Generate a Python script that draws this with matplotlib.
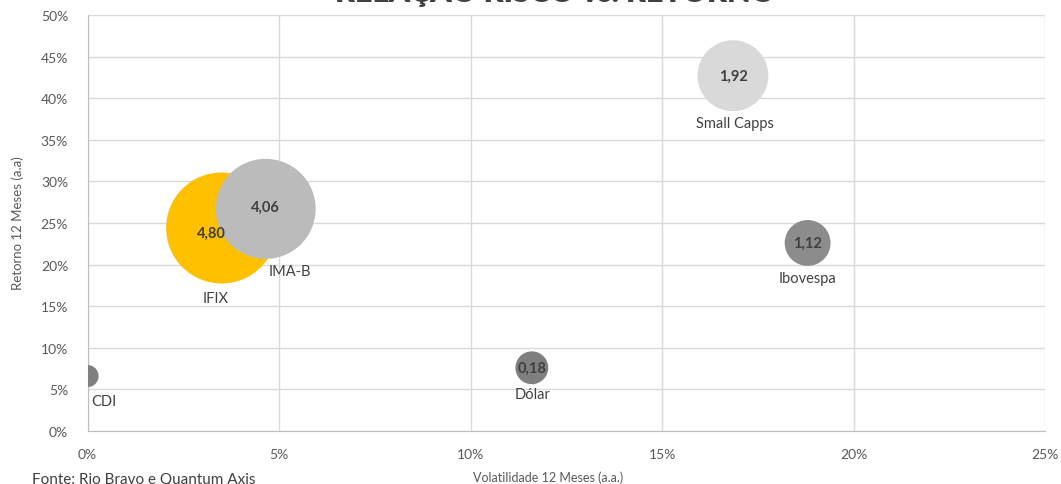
import matplotlib.pyplot as plt
from matplotlib.ticker import PercentFormatter

# dados
ativos = ['CDI', 'IFIX', 'IMA-B', 'Small Capps', 'Ibovespa', 'Dólar']
volatilidade = [0.0, 3.5, 4.65, 16.85, 18.8, 11.6]      # % a.a.
retorno = [6.6, 24.4, 26.7, 42.7, 22.6, 7.6]            # % a.a.
indice = [None, '4,80', '4,06', '1,92', '1,12', '0,18']
tamanho = [0.19, 4.80, 3.90, 1.96, 0.82, 0.42]          # tamanho relativo da bolha

cores = ['#7f7f7f', '#ffc000', '#bbbbbb', '#d9d9d9', '#8c8c8c', '#7f7f7f']
# deslocamentos dos rótulos (pixels): nome e valor
desl_nome = {'CDI': (16, -25), 'IFIX': (-6, -70), 'IMA-B': (24, -62),
             'Small Capps': (2, -47), 'Ibovespa': (0, -35), 'Dólar': (1, -26)}
desl_valor = {'IFIX': (-10, -5), 'IMA-B': (0, 2)}

plt.rcParams['font.family'] = ['Lato', 'DejaVu Sans']
cinza = '#595959'

fig = plt.figure(figsize=(10.61, 4.85), dpi=100)
ax = fig.add_axes([0.0825, 0.1093, 0.9025, 0.8577])

for i, nome in enumerate(ativos):
    ax.scatter(volatilidade[i], retorno[i], s=tamanho[i] * 1330, color=cores[i],
               edgecolors='none', zorder=3 + i)
    dx, dy = desl_nome[nome]
    ax.annotate(nome, (volatilidade[i], retorno[i]), xytext=(dx, dy),
                textcoords='offset pixels', ha='center', va='center',
                fontsize=10.5, color='#404040', zorder=20)
    if indice[i]:
        vx, vy = desl_valor.get(nome, (0, 0))
        ax.annotate(indice[i], (volatilidade[i], retorno[i]), xytext=(vx, vy),
                    textcoords='offset pixels', ha='center', va='center',
                    fontsize=10.5, fontweight='bold', color='#404040', zorder=20)

ax.set_xlim(0, 25)
ax.set_ylim(0, 50)
ax.set_xticks(range(0, 26, 5))
ax.set_yticks(range(0, 51, 5))
ax.xaxis.set_major_formatter(PercentFormatter(decimals=0))
ax.yaxis.set_major_formatter(PercentFormatter(decimals=0))
ax.tick_params(length=0, labelsize=10, colors=cinza)
ax.tick_params(axis='x', pad=12)
ax.tick_params(axis='y', pad=14)
ax.grid(True, color='#d9d9d9', linewidth=1)
ax.set_axisbelow(True)
for lado in ['top', 'right']:
    ax.spines[lado].set_visible(False)
for lado in ['left', 'bottom']:
    ax.spines[lado].set_color('#bfbfbf')

fig.text(0.0165, 0.54, 'Retorno 12 Meses (a.a)', rotation=90, ha='center', va='center',
         fontsize=9.5, color=cinza)
fig.text(0.517, 0.014, 'Volatilidade 12 Meses (a.a.)', ha='center', va='center',
         fontsize=9, color=cinza)
fig.text(0.03, -0.004, 'Fonte: Rio Bravo e Quantum Axis', ha='left', va='bottom',
         fontsize=11, color='#404040')
fig.text(0.523, 0.986, 'RELAÇÃO RISCO vs. RETORNO', ha='center', va='bottom',
         fontsize=22, fontweight='heavy', color='#404040')

plt.savefig('out.png', dpi=100)
